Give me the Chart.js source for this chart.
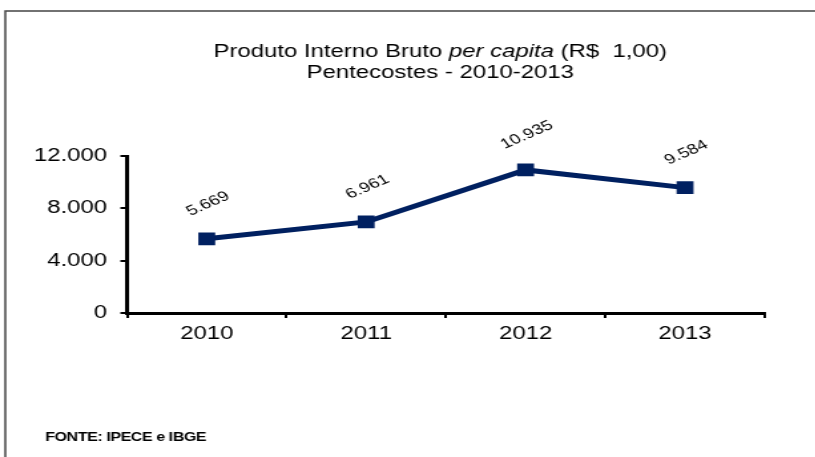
<!DOCTYPE html>
<html>
<head>
<meta charset="utf-8">
<script src="https://cdn.jsdelivr.net/npm/chart.js@4.4.0/dist/chart.umd.min.js"></script>
<style>
  html, body { margin: 0; padding: 0; background: #fff; overflow: hidden; }
  #wrap { width: 613px; height: 457px; transform: scaleX(1.33); transform-origin: 0 0; }
</style>
</head>
<body>
<div id="wrap"><canvas id="myChart" width="613" height="457"></canvas></div>
<script>
const anos = ["2010", "2011", "2012", "2013"];
const pibPerCapita = [5669, 6961, 10935, 9584];
const yTicks = [0, 4000, 8000, 12000];

const navy = "#002060";

function fmt(v) {
  return String(v).replace(/\B(?=(\d{3})+(?!\d))/g, ".");
}

// title, footer, frame and rotated value labels
const decor = {
  id: "decor",
  afterDraw(chart) {
    const ctx = chart.ctx;
    ctx.save();
    ctx.strokeStyle = "#444";
    ctx.lineWidth = 1.5;
    ctx.strokeRect(4, 11, 640, 460);

    ctx.fillStyle = "#000";
    ctx.textBaseline = "middle";
    const f1 = "18px 'Liberation Sans', Arial, sans-serif";
    const f2 = "italic 18px 'Liberation Sans', Arial, sans-serif";
    const parts = [["Produto Interno Bruto ", f1], ["per capita", f2], [" (R$  1,00)", f1]];
    let total = 0;
    parts.forEach(p => { ctx.font = p[1]; total += ctx.measureText(p[0]).width; });
    let x = 331 - total / 2;
    ctx.textAlign = "left";
    parts.forEach(p => { ctx.font = p[1]; ctx.fillText(p[0], x, 52); x += ctx.measureText(p[0]).width; });
    ctx.font = f1;
    ctx.textAlign = "center";
    ctx.fillText("Pentecostes - 2010-2013", 331, 73);

    ctx.font = "bold 12px 'Liberation Sans', Arial, sans-serif";
    ctx.textAlign = "left";
    ctx.letterSpacing = "-0.3px";
    ctx.fillText("FONTE: IPECE e IBGE", 34, 438);
    ctx.letterSpacing = "0px";

    const meta = chart.getDatasetMeta(0);
    ctx.font = "14px 'Liberation Sans', Arial, sans-serif";
    meta.data.forEach((pt, i) => {
      ctx.save();
      ctx.translate(pt.x + 1, pt.y - 35);
      ctx.rotate(-30 * Math.PI / 180);
      ctx.textAlign = "center";
      ctx.fillText(fmt(pibPerCapita[i]), 0, 0);
      ctx.restore();
    });
    ctx.restore();
  }
};

new Chart(document.getElementById("myChart").getContext("2d"), {
  type: "line",
  data: {
    labels: anos,
    datasets: [{
      data: pibPerCapita,
      borderColor: navy,
      backgroundColor: navy,
      borderWidth: 5,
      pointStyle: "rect",
      pointRadius: 9,
      pointBorderWidth: 0,
      tension: 0
    }]
  },
  options: {
    responsive: false,
    animation: false,
    layout: { padding: { left: 5.5, right: 38, top: 156, bottom: 104 } },
    plugins: { legend: { display: false }, tooltip: { enabled: false } },
    scales: {
      x: {
        offset: true,
        grid: { drawOnChartArea: false, drawTicks: true, tickLength: 5, color: "#000", lineWidth: 2, offset: true },
        border: { color: "#000", width: 3 },
        ticks: { color: "#000", font: { family: "'Liberation Sans', Arial, sans-serif", size: 18 }, padding: 5 },
        afterFit(s) { s.height = 40; }
      },
      y: {
        min: 0,
        max: 12000,
        afterBuildTicks(s) { s.ticks = yTicks.map(v => ({ value: v })); },
        grid: { drawOnChartArea: false, drawTicks: true, tickLength: 5, color: "#000", lineWidth: 2 },
        border: { color: "#000", width: 3 },
        ticks: { color: "#000", font: { family: "'Liberation Sans', Arial, sans-serif", size: 18 }, padding: 10, callback: v => fmt(v) },
        afterFit(s) { s.width = 90; }
      }
    }
  },
  plugins: [decor]
});
</script>
</body>
</html>
